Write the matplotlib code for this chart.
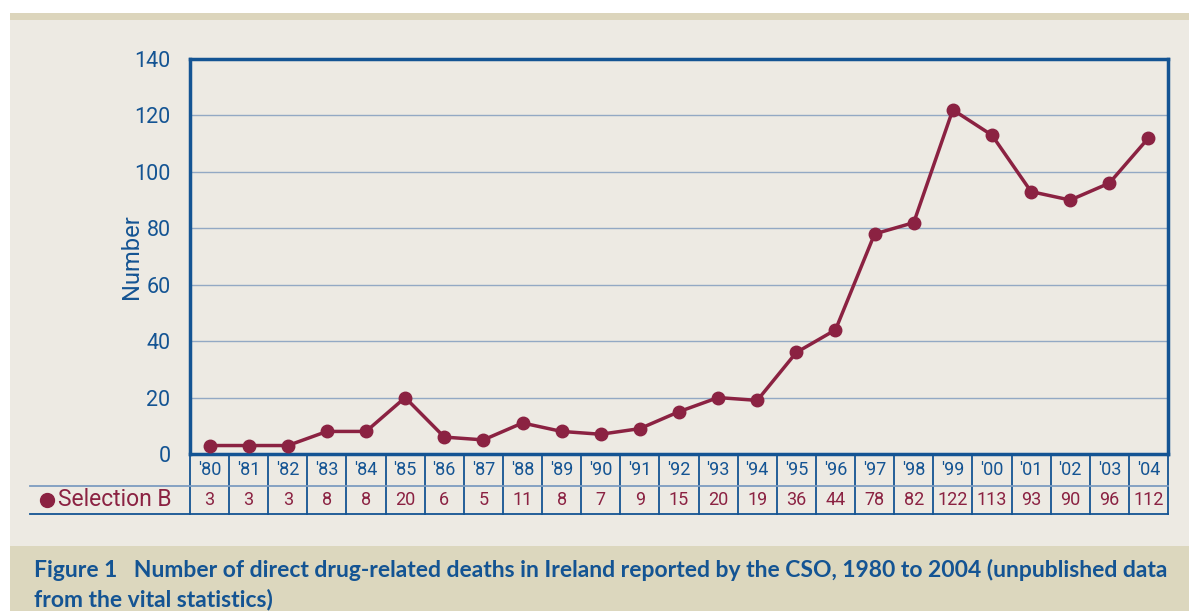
import matplotlib.pyplot as plt
from matplotlib.lines import Line2D

years = ["'80", "'81", "'82", "'83", "'84", "'85", "'86", "'87", "'88", "'89",
         "'90", "'91", "'92", "'93", "'94", "'95", "'96", "'97", "'98", "'99",
         "'00", "'01", "'02", "'03", "'04"]
deaths = [3, 3, 3, 8, 8, 20, 6, 5, 11, 8, 7, 9, 15, 20, 19, 36, 44, 78, 82, 122,
          113, 93, 90, 96, 112]
y_ticks = [0, 20, 40, 60, 80, 100, 120, 140]
series_name = "Selection B"
caption1 = "Figure 1   Number of direct drug-related deaths in Ireland reported by the CSO, 1980 to 2004 (unpublished data"
caption2 = "from the vital statistics)"

blue = "#145493"
maroon = "#8B2242"
grid_c = "#93A9C4"
bg = "#EDEAE3"
band = "#DCD7BE"

W, H = 1189, 611
fig = plt.figure(figsize=(W / 100, H / 100), dpi=100)
fig.patch.set_facecolor("white")

def fx(px):
    return px / W

def fy(py):
    return 1 - py / H

# background panels
fig.add_artist(plt.Rectangle((fx(10), fy(546)), fx(1179), 526 / H, transform=fig.transFigure,
                             facecolor=bg, edgecolor="none", zorder=0))
fig.add_artist(plt.Rectangle((fx(10), fy(20)), fx(1179), 7 / H, transform=fig.transFigure,
                             facecolor="#DCD5BC", edgecolor="none", zorder=0))
fig.add_artist(plt.Rectangle((fx(10), 0), fx(1179), 65 / H, transform=fig.transFigure,
                             facecolor=band, edgecolor="none", zorder=0))

left, right, top, bottom = 190, 1168, 59, 454
ax = fig.add_axes([fx(left), fy(bottom), (right - left) / W, (bottom - top) / H])
ax.set_facecolor(bg)
n = len(deaths)
x = list(range(n))
ax.plot(x, deaths, color=maroon, lw=2.5, marker="o", ms=9, zorder=3, clip_on=False)
ax.set_xlim(-0.5, n - 0.5)
ax.set_ylim(0, 140)
ax.set_yticks(y_ticks)
ax.set_yticklabels([str(v) for v in y_ticks], fontsize=15.5, color=blue, family="Roboto")
ax.tick_params(axis="y", length=0, pad=14)
ax.set_xticks([])
ax.yaxis.grid(True, color=grid_c, lw=1)
ax.set_axisbelow(True)
for s in ax.spines.values():
    s.set_color(blue)
    s.set_linewidth(2.5)
ax.set_ylabel("Number", fontsize=17, color=blue, family="Roboto", labelpad=-6)

# table below the axes
row1, row2 = 486, 514
for i in range(n + 1):
    fig.add_artist(Line2D([fx(left + (right - left) * i / n)] * 2, [fy(bottom), fy(row2)],
                          transform=fig.transFigure, color=blue, lw=1.3))
fig.add_artist(Line2D([fx(30), fx(right)], [fy(row1)] * 2, transform=fig.transFigure,
                      color="#7D9CC0", lw=1.3))
fig.add_artist(Line2D([fx(30), fx(right)], [fy(row2)] * 2, transform=fig.transFigure,
                      color=blue, lw=1.3))
for i in range(n):
    cx = fx(left + (right - left) * (i + 0.5) / n)
    fig.text(cx, fy((bottom + row1) / 2), years[i], ha="center", va="center",
             fontsize=13, color=blue, family="Roboto")
    fig.text(cx, fy((row1 + row2) / 2), str(deaths[i]), ha="center", va="center",
             fontsize=13, color=maroon, family="Roboto")
fig.add_artist(Line2D([fx(47)], [fy(500)], transform=fig.transFigure, marker="o",
                      ms=10, color=maroon, lw=0))
fig.text(fx(58), fy(500), series_name, ha="left", va="center", fontsize=16.5,
         color=maroon, family="Roboto")

fig.text(fx(34), fy(570), caption1, ha="left", va="center", fontsize=16.5,
         fontweight="bold", color=blue, family="Lato")
fig.text(fx(34), fy(600), caption2, ha="left", va="center", fontsize=16.5,
         fontweight="bold", color=blue, family="Lato")

fig.savefig("out.png", dpi=100)
